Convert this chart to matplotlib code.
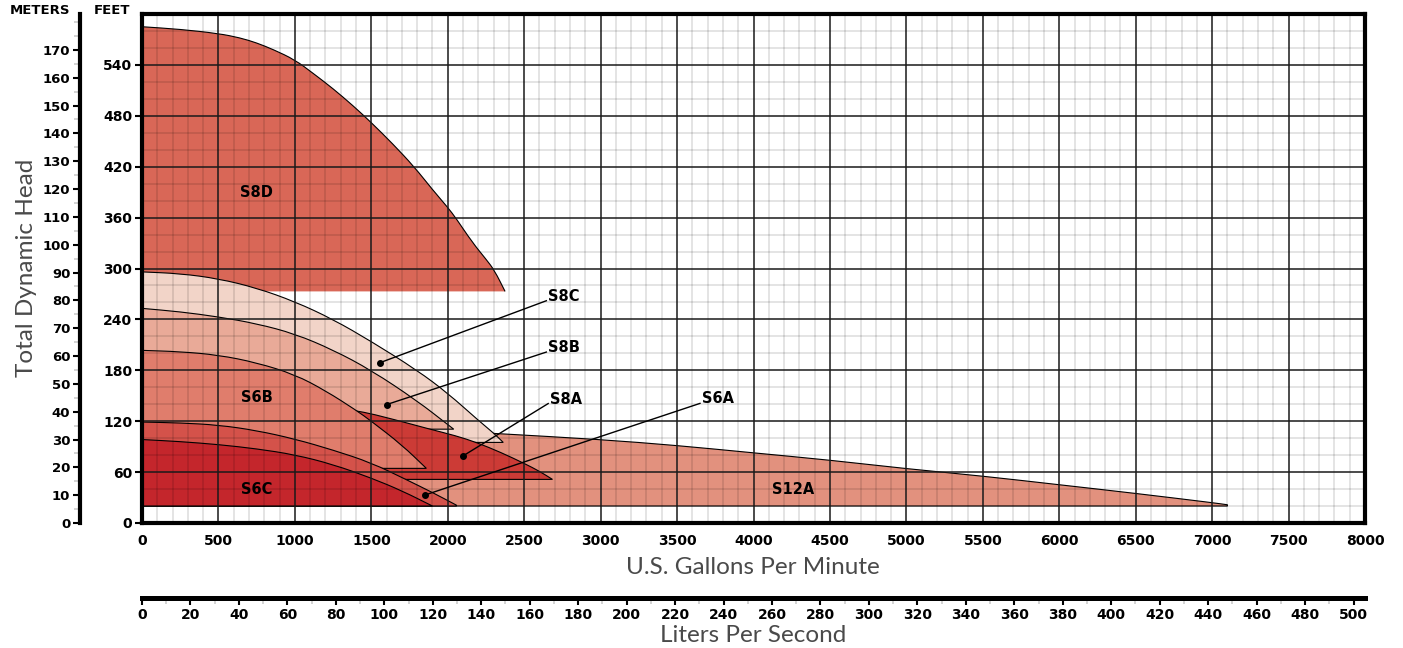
import matplotlib
matplotlib.use("Agg")
import matplotlib.pyplot as plt
from matplotlib.ticker import MultipleLocator, FixedLocator
from matplotlib.path import Path
from matplotlib.patches import PathPatch

# ---------------- data ----------------
gpm_ticks = list(range(0, 8001, 500))
ft_ticks = list(range(0, 541, 60))
m_ticks = list(range(0, 171, 10))
lps_ticks = list(range(0, 501, 20))

s8d_gpm = [0, 250, 500, 640, 750, 860, 1000, 1120, 1250, 1380, 1500, 1640, 1780, 1900, 2000, 2055, 2160, 2250, 2305, 2375]
s8d_ft = [585, 582, 577, 572, 566, 558, 546, 530, 512, 492, 472, 447, 420, 393, 372, 359, 331, 311, 298, 273]
s8d_base = 273

s8c_gpm = [0, 250, 500, 750, 1000, 1250, 1500, 1800, 2000, 2200, 2300, 2363]
s8c_ft = [296, 294, 288, 277, 261, 240, 214, 180, 153, 121, 106, 95]
s8c_base = 95

s8b_gpm = [0, 250, 500, 750, 1000, 1250, 1500, 1800, 2000, 2039]
s8b_ft = [253, 249, 243, 235, 223, 204, 180, 144, 116, 110.6]
s8b_base = 110.6

s8a_gpm = [0, 700, 1403, 1650, 1883, 2050, 2188, 2350, 2503, 2600, 2685]
s8a_ft = [160, 152, 133, 122, 110.6, 103, 95, 83, 70, 61, 51.4]
s8a_base = 51.4

s6b_gpm = [0, 250, 500, 750, 1000, 1200, 1400, 1500, 1700, 1860]
s6b_ft = [203.5, 202, 198, 189, 175, 156, 133, 120, 92, 64.4]
s6b_base = 64.4

s6a_gpm = [0, 250, 500, 750, 1000, 1250, 1500, 1730, 1900, 2057]
s6a_ft = [119, 118, 115.5, 109, 99, 86, 71, 51, 36, 21]
s6a_base = 20

s6c_gpm = [0, 250, 500, 750, 1000, 1250, 1500, 1700, 1900]
s6c_ft = [98.4, 96, 92.5, 87.5, 80.5, 69, 53, 38, 20]
s6c_base = 20

s12a_gpm = [0, 1000, 2000, 2318, 3000, 3500, 4000, 4500, 5000, 5500, 6000, 6500, 7000, 7100]
s12a_ft = [116, 113, 108.5, 105.5, 98.4, 91.4, 82.7, 74.1, 64, 55.3, 45.1, 34.9, 24, 21.5]
s12a_base = 20

# name, gpm, ft, base, colour (draw order: back to front)
pumps = [
    ("S12A", s12a_gpm, s12a_ft, s12a_base, "#e2917e"),
    ("S8D", s8d_gpm, s8d_ft, s8d_base, "#d96757"),
    ("S8C", s8c_gpm, s8c_ft, s8c_base, "#f2d4c8"),
    ("S8B", s8b_gpm, s8b_ft, s8b_base, "#e9aa98"),
    ("S8A", s8a_gpm, s8a_ft, s8a_base, "#cc3b36"),
    ("S6B", s6b_gpm, s6b_ft, s6b_base, "#e07d6c"),
    ("S6A", s6a_gpm, s6a_ft, s6a_base, "#d4524a"),
    ("S6C", s6c_gpm, s6c_ft, s6c_base, "#c4262c"),
]

# in-area labels
area_labels = ["S8D", "S6B", "S6C", "S12A"]
area_label_gpm = [750, 750, 750, 4258]
area_label_ft = [389, 148, 40, 40]

# callout labels: dot position and text anchor
call_labels = ["S8C", "S8B", "S8A", "S6A"]
call_dot_gpm = [1557, 1600, 2101, 1851]
call_dot_ft = [189, 139.6, 79.2, 33]
call_txt_gpm = [2645, 2645, 2657, 3650]
call_txt_ft = [262, 201.5, 140.8, 141]


def smooth_path(xs, ys, base, close=True):
    """Quadratic-Bezier path through the midpoints of the read points."""
    pts = list(zip(xs, ys))
    verts = [pts[0]]
    codes = [Path.MOVETO]
    mid = lambda a, b: ((a[0] + b[0]) / 2, (a[1] + b[1]) / 2)
    verts.append(mid(pts[0], pts[1]))
    codes.append(Path.LINETO)
    for i in range(1, len(pts) - 1):
        verts += [pts[i], mid(pts[i], pts[i + 1])]
        codes += [Path.CURVE3, Path.CURVE3]
    verts.append(pts[-1])
    codes.append(Path.LINETO)
    if close:
        verts += [(xs[-1], base), (xs[0], base), pts[0]]
        codes += [Path.LINETO, Path.LINETO, Path.CLOSEPOLY]
    return Path(verts, codes)


# ---------------- figure ----------------
W, H = 1403, 648
fig = plt.figure(figsize=(W / 100, H / 100), dpi=100)

BOLD = dict(family="DejaVu Sans", fontweight="bold")
LIGHT = dict(family=["Lato", "DejaVu Sans"], fontweight="normal")

ax_left, ax_right, ax_top, ax_bot = 142, 1365, 14, 523
ax = fig.add_axes([ax_left / W, 1 - ax_bot / H, (ax_right - ax_left) / W, (ax_bot - ax_top) / H])
ax.set_xlim(0, 8000)
ax.set_ylim(0, 600)

for i, (name, gx, fy, base, col) in enumerate(pumps):
    z = 1 + i * 0.01
    if name == "S8D":
        ax.add_patch(PathPatch(smooth_path(gx, fy, base), facecolor=col, edgecolor="none", zorder=z))
        ax.add_patch(PathPatch(smooth_path(gx, fy, base, close=False), facecolor="none",
                               edgecolor="black", lw=0.8, zorder=z + 0.005))
    else:
        ax.add_patch(PathPatch(smooth_path(gx, fy, base), facecolor=col, edgecolor="black",
                               lw=0.8, joinstyle="miter", zorder=z))

# grid on top of fills
ax.set_axisbelow(False)
ax.xaxis.set_major_locator(FixedLocator(gpm_ticks))
ax.yaxis.set_major_locator(FixedLocator(ft_ticks))
ax.xaxis.set_minor_locator(MultipleLocator(100))
ax.yaxis.set_minor_locator(MultipleLocator(20))
ax.grid(which="minor", color="black", alpha=0.11, lw=1.4)
ax.grid(which="major", color="#1a1a1a", alpha=1.0, lw=1.1)

ax.set_xticklabels([str(v) for v in gpm_ticks], fontsize=10, **BOLD)
ax.set_yticklabels([str(v) for v in ft_ticks], fontsize=10, **BOLD)
ax.tick_params(axis="x", which="both", length=0, pad=8)
ax.tick_params(axis="y", which="minor", length=0)
ax.tick_params(axis="y", which="major", length=5, width=1.5, pad=2)
for s in ax.spines.values():
    s.set_linewidth(3.0)
    s.set_zorder(10)

# area labels
for t, gx, fy in zip(area_labels, area_label_gpm, area_label_ft):
    ax.text(gx, fy, t, ha="center", va="center", fontsize=10.5, zorder=8, **BOLD)

# callouts
for t, dx, dy, tx, ty in zip(call_labels, call_dot_gpm, call_dot_ft, call_txt_gpm, call_txt_ft):
    ax.plot([dx, tx], [dy, ty], color="black", lw=1.0, zorder=7)
    ax.plot([dx], [dy], "o", color="black", ms=4, zorder=7)
    ax.text(tx + 10, ty, t, ha="left", va="baseline", fontsize=10.5, zorder=8, **BOLD)

# meters axis
axm = fig.add_axes([80 / W, 1 - ax_bot / H, 0.0005, (ax_bot - ax_top) / H])
axm.set_ylim(0, 600 / 3.28084)
axm.set_xticks([])
for k in ["top", "right", "bottom"]:
    axm.spines[k].set_visible(False)
axm.spines["left"].set_linewidth(3.0)
axm.yaxis.set_major_locator(FixedLocator(m_ticks))
axm.yaxis.set_minor_locator(MultipleLocator(5))
axm.set_yticklabels([str(v) for v in m_ticks], fontsize=9.5, **BOLD)
axm.tick_params(axis="y", which="major", length=5, width=1.5, pad=2)
axm.tick_params(axis="y", which="minor", length=4, width=1.2, color="#cccccc")
axm.patch.set_visible(False)

# liters axis
ly = 598
axl = fig.add_axes([ax_left / W, 1 - ly / H, (ax_right - ax_left) / W, 0.0005])
axl.set_xlim(0, 8000 / 15.850323)
axl.set_yticks([])
for k in ["top", "right", "left"]:
    axl.spines[k].set_visible(False)
axl.spines["bottom"].set_linewidth(3.6)
axl.xaxis.set_major_locator(FixedLocator(lps_ticks))
axl.xaxis.set_minor_locator(MultipleLocator(10))
axl.set_xticklabels([str(v) for v in lps_ticks], fontsize=10, **BOLD)
axl.tick_params(axis="x", which="major", length=5, width=1.5, pad=2)
axl.tick_params(axis="x", which="minor", length=4, width=1.2, color="#cccccc")
axl.patch.set_visible(False)

# titles / labels
fig.text(40 / W, 1 - 11 / H, "METERS", ha="center", va="center", fontsize=9.5, **BOLD)
fig.text(112 / W, 1 - 11 / H, "FEET", ha="center", va="center", fontsize=9.5, **BOLD)
fig.text(27 / W, 1 - 268 / H, "Total Dynamic Head", rotation=90, ha="center", va="center",
         fontsize=17.5, color="#4a4a4a", **LIGHT)
fig.text(753 / W, 1 - 568 / H, "U.S. Gallons Per Minute", ha="center", va="center",
         fontsize=17.5, color="#4a4a4a", **LIGHT)
fig.text(753 / W, 1 - 635 / H, "Liters Per Second", ha="center", va="center",
         fontsize=17.5, color="#4a4a4a", **LIGHT)

fig.savefig("out.png", dpi=100)
